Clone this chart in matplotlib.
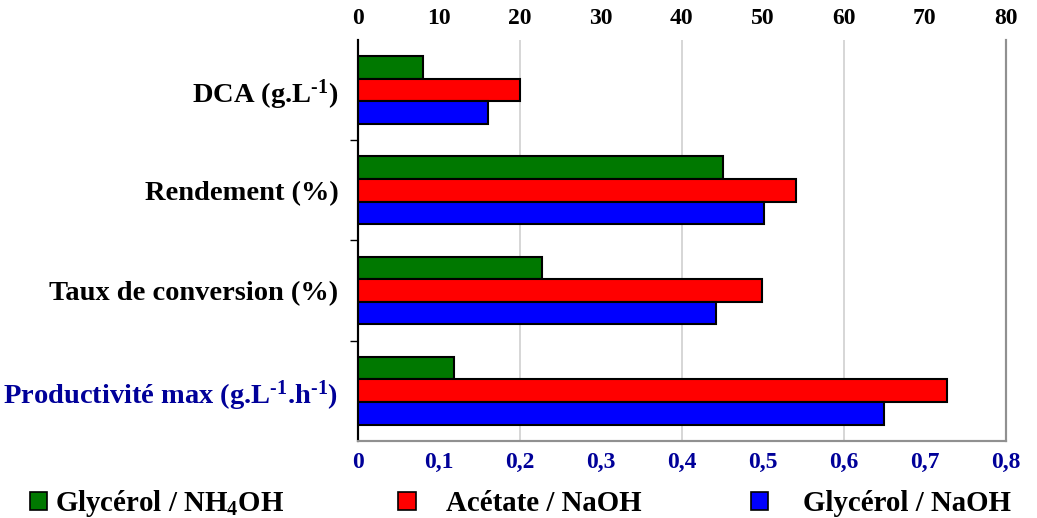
"""
Horizontal grouped bar chart: DCA, rendement, conversion, productivite.
Saves out.png.
"""

import matplotlib
matplotlib.use("Agg")
import matplotlib.pyplot as plt
from matplotlib.patches import Patch
import numpy as np

plt.rcParams["font.family"] = "Liberation Serif"
plt.rcParams["font.weight"] = "bold"
plt.rcParams["mathtext.fontset"] = "custom"
plt.rcParams["mathtext.rm"] = "Liberation Serif:bold"
plt.rcParams["mathtext.bf"] = "Liberation Serif:bold"
plt.rcParams["mathtext.default"] = "rm"

categories = [r"DCA (g.L$^{\text{-1}}$)", "Rendement (%)", "Taux de conversion (%)",
              r"Productivité max (g.L$^{\text{-1}}$.h$^{\text{-1}}$)"]
series_names = ["Glycérol / NH$_4$OH", "Acétate / NaOH", "Glycérol / NaOH"]
colors = ["#007800", "#FF0000", "#0000FF"]

# top axis (0-80) for the first three categories
glycerol_nh4oh = [8.0, 45.1, 22.8]
acetate_naoh = [20.0, 54.1, 49.9]
glycerol_naoh = [16.1, 50.2, 44.2]

# bottom axis (0-0.8) for productivity
productivite = [0.119, 0.727, 0.650]

top_ticks = [0, 10, 20, 30, 40, 50, 60, 70, 80]
bottom_ticks = [0, 0.1, 0.2, 0.3, 0.4, 0.5, 0.6, 0.7, 0.8]
bottom_labels = ["0", "0,1", "0,2", "0,3", "0,4", "0,5", "0,6", "0,7", "0,8"]

DARK_BLUE = "#000099"

fig = plt.figure(figsize=(10.37, 5.18), dpi=100)
ax = fig.add_axes([0.345, 0.149, 0.625, 0.774])
ax2 = ax.twiny()

bar_h = 0.225
offsets = [-bar_h, 0, bar_h]
y = np.arange(3)
for vals, off, c in zip([glycerol_nh4oh, acetate_naoh, glycerol_naoh], offsets, colors):
    ax.barh(y + off, vals, height=bar_h, color=c, edgecolor="black", linewidth=1.5, zorder=3)
for val, off, c in zip(productivite, offsets, colors):
    ax2.barh(3 + off, val, height=bar_h, color=c, edgecolor="black", linewidth=1.5, zorder=3)

ax.set_xlim(0, 80)
ax2.set_xlim(0, 0.8)
ax.set_ylim(3.5, -0.5)

# top axis: 0-80 black
ax.xaxis.tick_top()
ax.set_xticks(top_ticks)
ax.set_xticklabels([str(t) for t in top_ticks], fontsize=17, fontweight="bold")
ax.tick_params(axis="x", length=0, pad=8)
for g in [20, 40, 60]:
    ax.axvline(g, color="#d0d0d0", linewidth=1.2, zorder=1)

# bottom axis: 0-0.8 blue
ax2.xaxis.tick_bottom()
ax2.set_xticks(bottom_ticks)
ax2.set_xticklabels(bottom_labels, fontsize=17, fontweight="bold", color=DARK_BLUE)
ax2.tick_params(axis="x", length=0, pad=8)

ax.set_yticks(range(4))
ax.set_yticklabels(categories, fontsize=20.5, fontweight="bold")
ax.get_yticklabels()[3].set_color(DARK_BLUE)
ax.set_yticks([0.5, 1.5, 2.5], minor=True)
ax.tick_params(axis="y", which="major", length=0, pad=14)
ax.tick_params(axis="y", which="minor", length=6, width=1, direction="out")

for a in (ax, ax2):
    a.spines["top"].set_visible(False)
    a.spines["left"].set_color("black")
    a.spines["left"].set_linewidth(1.5)
    a.spines["right"].set_color("#909090")
    a.spines["right"].set_linewidth(1.5)
    a.spines["bottom"].set_color("#909090")
    a.spines["bottom"].set_linewidth(1.5)

# one legend per series so each entry sits where it does in the original
legend_x = [0.029, 0.384, 0.724]
text_pads = [0.25, 1.05, 1.2]
for h_color, name, lx, tp in zip(colors, series_names, legend_x, text_pads):
    h = Patch(facecolor=h_color, edgecolor="black", linewidth=1.2)
    fig.legend([h], [name], loc="center left", bbox_to_anchor=(lx, 0.028),
               frameon=False, handlelength=0.6, handleheight=0.6,
               handletextpad=tp, borderaxespad=0, borderpad=0,
               prop={"weight": "bold", "size": 20.8})

fig.savefig("out.png", dpi=100)
